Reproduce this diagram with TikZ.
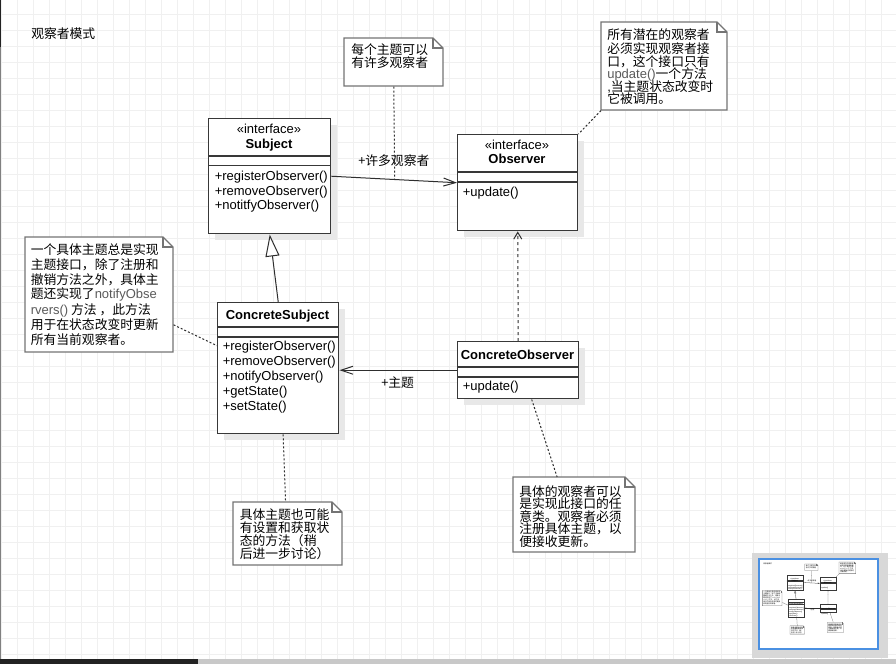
\documentclass[tikz,border=0pt]{standalone}
\usepackage{fontspec}
\setmainfont{Liberation Sans}
\newfontfamily\cjk{Noto Sans CJK SC}
\usetikzlibrary{arrows.meta,calc}

\definecolor{gridc}{HTML}{F0F0F0}
\definecolor{shadowc}{HTML}{E8E8E8}
\definecolor{clsc}{HTML}{383838}
\definecolor{notec}{HTML}{747474}
\definecolor{linkc}{HTML}{2E2E2E}
\definecolor{graytext}{HTML}{5A5A5A}
\definecolor{panelc}{HTML}{D8D8D8}
\definecolor{bluec}{HTML}{4A90E2}
\definecolor{bardark}{HTML}{222222}
\definecolor{barlight}{HTML}{C8C8C8}

% one screen pixel, and the two text sizes
\newcommand\pxu{0.75pt}
\newcommand\fslat{\fontsize{9.75}{11}\selectfont}
\newcommand\fscjk{\fontsize{9.6}{11}\selectfont}
\newcommand\glat[1]{{\normalfont\fslat\color{graytext}#1}}

\tikzset{
  lat/.style={font=\fslat, inner sep=0pt, anchor=west, text=black, text height=0.75em, text depth=0.22em},
  latc/.style={lat, anchor=center},
  latb/.style={lat, font=\fslat\bfseries, anchor=center},
  han/.style={font=\cjk\fscjk, inner sep=0pt, anchor=west, text=black},
  cls/.style={draw=clsc, fill=white, line width=1.1pt, inner sep=0pt},
  clsline/.style={draw=clsc, line width=1.1pt},
  notenode/.style={inner sep=0pt},
  noteline/.style={draw=notec, fill=white, line width=1pt},
  link/.style={draw=linkc, line width=0.75pt},
  notelink/.style={draw=linkc, line width=0.75pt, dash pattern=on 1.5pt off 1.5pt},
  reallink/.style={draw=linkc, line width=0.75pt, dash pattern=on 2.25pt off 2.25pt},
  assocarrow/.style={-{Straight Barb[length=9pt,width=6pt]}},
  genarrow/.style={-{Triangle[open,length=16.5pt,width=10.5pt,fill=white]}},
  realarrow/.style={-{Straight Barb[length=5pt,width=6pt]}},
}

% class box: name, left, top, width, height (pixels)
\newcommand\umlclass[5]{%
  \fill[shadowc] (#2+7,#3+7) rectangle (#2+#4+7,#3+#5+7);
  \node[cls, minimum width=#4*\pxu, minimum height=#5*\pxu, anchor=north west] (#1) at (#2,#3) {};
}
% note with folded corner: name, x1, y1, x2, y2 (pixels)
\newcommand\umlnote[5]{%
  \filldraw[noteline] (#2,#3) -- (#4-10,#3) -- (#4,#3+10) -- (#4,#5) -- (#2,#5) -- cycle;
  \draw[noteline, fill=none] (#4-10,#3) -- (#4-10,#3+10) -- (#4,#3+10);
  \node[notenode, minimum width=(#4-#2)*\pxu, minimum height=(#5-#3)*\pxu, anchor=north west] (#1) at (#2,#3) {};
}

\newcommand\observerdiagram{%
  \node[han] (title) at (31,34) {观察者模式};

  % Subject
  \umlclass{subject}{208}{118}{122}{115}
  \draw[clsline] (208,156) -- (330,156);
  \draw[clsline] (208,165.5) -- (330,165.5);
  \node[latc] (subject-st) at (269,130) {«interface»};
  \node[latb] (subject-nm) at (269,144.5) {Subject};
  \node[lat] (subject-o1) at (214.5,177) {+registerObserver()};
  \node[lat] (subject-o2) at (214.5,191.5) {+removeObserver()};
  \node[lat] (subject-o3) at (214.5,206) {+notitfyObserver()};

  % Observer
  \umlclass{observer}{457}{134}{120}{96}
  \draw[clsline] (457,172) -- (577,172);
  \draw[clsline] (457,182) -- (577,182);
  \node[latc] (observer-st) at (517,146) {«interface»};
  \node[latb] (observer-nm) at (517,160) {Observer};
  \node[lat] (observer-o1) at (462.5,193) {+update()};

  % ConcreteSubject
  \umlclass{csub}{217}{302}{121}{131}
  \draw[clsline] (217,327) -- (338,327);
  \draw[clsline] (217,337) -- (338,337);
  \node[latb] (csub-nm) at (277.5,315.5) {ConcreteSubject};
  \node[lat] (csub-o1) at (222.5,347.3) {+registerObserver()};
  \node[lat] (csub-o2) at (222.5,362.3) {+removeObserver()};
  \node[lat] (csub-o3) at (222.5,377.3) {+notifyObserver()};
  \node[lat] (csub-o4) at (222.5,392.3) {+getState()};
  \node[lat] (csub-o5) at (222.5,407.3) {+setState()};

  % ConcreteObserver
  \umlclass{cobs}{457}{341}{121}{57}
  \draw[clsline] (457,367) -- (578,367);
  \draw[clsline] (457,377) -- (578,377);
  \node[latb] (cobs-nm) at (517.5,355.5) {ConcreteObserver};
  \node[lat] (cobs-o1) at (462.5,387) {+update()};

  % notes
  \umlnote{n1}{344}{38}{443}{86}
  \node[han] (n1-l1) at (351,49.5) {每个主题可以};
  \node[han] (n1-l2) at (351,63) {有许多观察者};

  \umlnote{n2}{601}{22}{727}{110}
  \node[han] (n2-l1) at (607,35) {所有潜在的观察者};
  \node[han] (n2-l2) at (607,48.3) {必须实现观察者接};
  \node[han] (n2-l3) at (607,61.5) {口，这个接口只有};
  \node[han] (n2-l4) at (607,74.3) {\glat{update()}一个方法};
  \node[han] (n2-l5) at (607,86.7) {{\normalfont\fslat,}当主题状态改变时};
  \node[han] (n2-l6) at (607,99) {它被调用。};

  \umlnote{n3}{25}{237}{173}{352}
  \node[han] (n3-l1) at (30.5,250) {一个具体主题总是实现};
  \node[han] (n3-l2) at (30.5,264.5) {主题接口，除了注册和};
  \node[han] (n3-l3) at (30.5,279.3) {撤销方法之外，具体主};
  \node[han] (n3-l4) at (30.5,294.5) {题还实现了\glat{notifyObse}};
  \node[han] (n3-l5) at (30.5,310) {\glat{rvers()} 方法 ，此方法};
  \node[han] (n3-l6) at (30.5,325) {用于在状态改变时更新};
  \node[han] (n3-l7) at (30.5,340) {所有当前观察者。};

  \umlnote{n4}{233}{502}{342}{565}
  \node[han] (n4-l1) at (239.5,514.5) {具体主题也可能};
  \node[han] (n4-l2) at (239.5,527.8) {有设置和获取状};
  \node[han] (n4-l3) at (239.5,541) {态的方法（稍};
  \node[han] (n4-l4) at (239.5,553.5) {后进一步讨论）};

  \umlnote{n5}{513}{477}{635}{552}
  \node[han] (n5-l1) at (519,491.5) {具体的观察者可以};
  \node[han] (n5-l2) at (519,504) {是实现此接口的任};
  \node[han] (n5-l3) at (519,516.5) {意类。观察者必须};
  \node[han] (n5-l4) at (519,529) {注册具体主题，以};
  \node[han] (n5-l5) at (519,541.5) {便接收更新。};

  % relations
  \draw[link, assocarrow] (subject.east) -- coordinate[pos=0.504] (a1mid) (observer.west);
  \node[han] (a1-lbl) at (358,161) {+许多观察者};
  \draw[link, genarrow] (csub.north) -- (subject.south);
  \draw[reallink, realarrow] (cobs.north) -- (observer.south);
  \draw[link, assocarrow] (cobs.west) -- (cobs.west -| csub.east);
  \node[han] (a2-lbl) at (381,383) {+主题};

  % note anchors
  \draw[notelink] (n1.south) -- (a1mid);
  \draw[notelink] (n2.south west) -- (observer.north east);
  \draw[notelink] ($(n3.south east)!0.24!(n3.north east)$) -- ($(csub.north west)!0.33!(csub.south west)$);
  \draw[notelink] ($(csub.south west)!0.54!(csub.south east)$) -- ($(n4.north west)!0.48!(n4.north east)$);
  \draw[notelink] ($(cobs.south west)!0.61!(cobs.south east)$) -- ($(n5.north west)!0.36!(n5.north east)$);
}

\begin{document}
\begin{tikzpicture}[x=0.75pt,y=-0.75pt]
  \useasboundingbox (0,0) rectangle (896,664);
  \fill[white] (0,0) rectangle (896,664);

  % canvas grid
  \foreach \gx in {1,17,...,896}
    \draw[gridc, line width=0.75pt] (\gx,0) -- (\gx,664);
  \foreach \gy in {14,30,...,664}
    \draw[gridc, line width=0.75pt] (0,\gy) -- (896,\gy);

  \observerdiagram

  % overview panel
  \fill[panelc] (752,553) rectangle (888,658);
  \fill[white] (759,559) rectangle (878,649);
  \begin{scope}
    \clip (759,559) rectangle (878,649);
    \begin{scope}[shift={(759,559)}, scale=0.133, name prefix=m-,
        cls/.style={draw=clsc, fill=white, line width=0.25pt, inner sep=0pt},
        clsline/.style={draw=clsc, line width=0.25pt},
        noteline/.style={draw=notec, fill=white, line width=0.25pt},
        link/.style={draw=linkc, line width=0.2pt},
        notelink/.style={draw=linkc, line width=0.2pt, dash pattern=on 0.4pt off 0.4pt},
        reallink/.style={draw=linkc, line width=0.2pt, dash pattern=on 0.4pt off 0.4pt},
        assocarrow/.style={-{Straight Barb[length=1.2pt,width=0.8pt]}},
        genarrow/.style={-{Triangle[open,length=2.2pt,width=1.4pt,fill=white]}},
        realarrow/.style={-{Straight Barb[length=0.7pt,width=0.8pt]}}]
      \renewcommand\pxu{0.09975pt}
      \renewcommand\fslat{\fontsize{1.3}{1.5}\selectfont}
      \renewcommand\fscjk{\fontsize{1.28}{1.5}\selectfont}
      \observerdiagram
    \end{scope}
  \end{scope}
  \draw[bluec, line width=1.4pt] (759,559) rectangle (878,649);

  % scroll bar and window edge
  \fill[barlight] (198,659) rectangle (896,664);
  \fill[bardark] (0,659) rectangle (198,664);
  \draw[gray, line width=0.75pt] (0.5,0) -- (0.5,659);
  \draw[bardark, line width=1.2pt] (0.5,0) -- (0.5,47);
\end{tikzpicture}
\end{document}
